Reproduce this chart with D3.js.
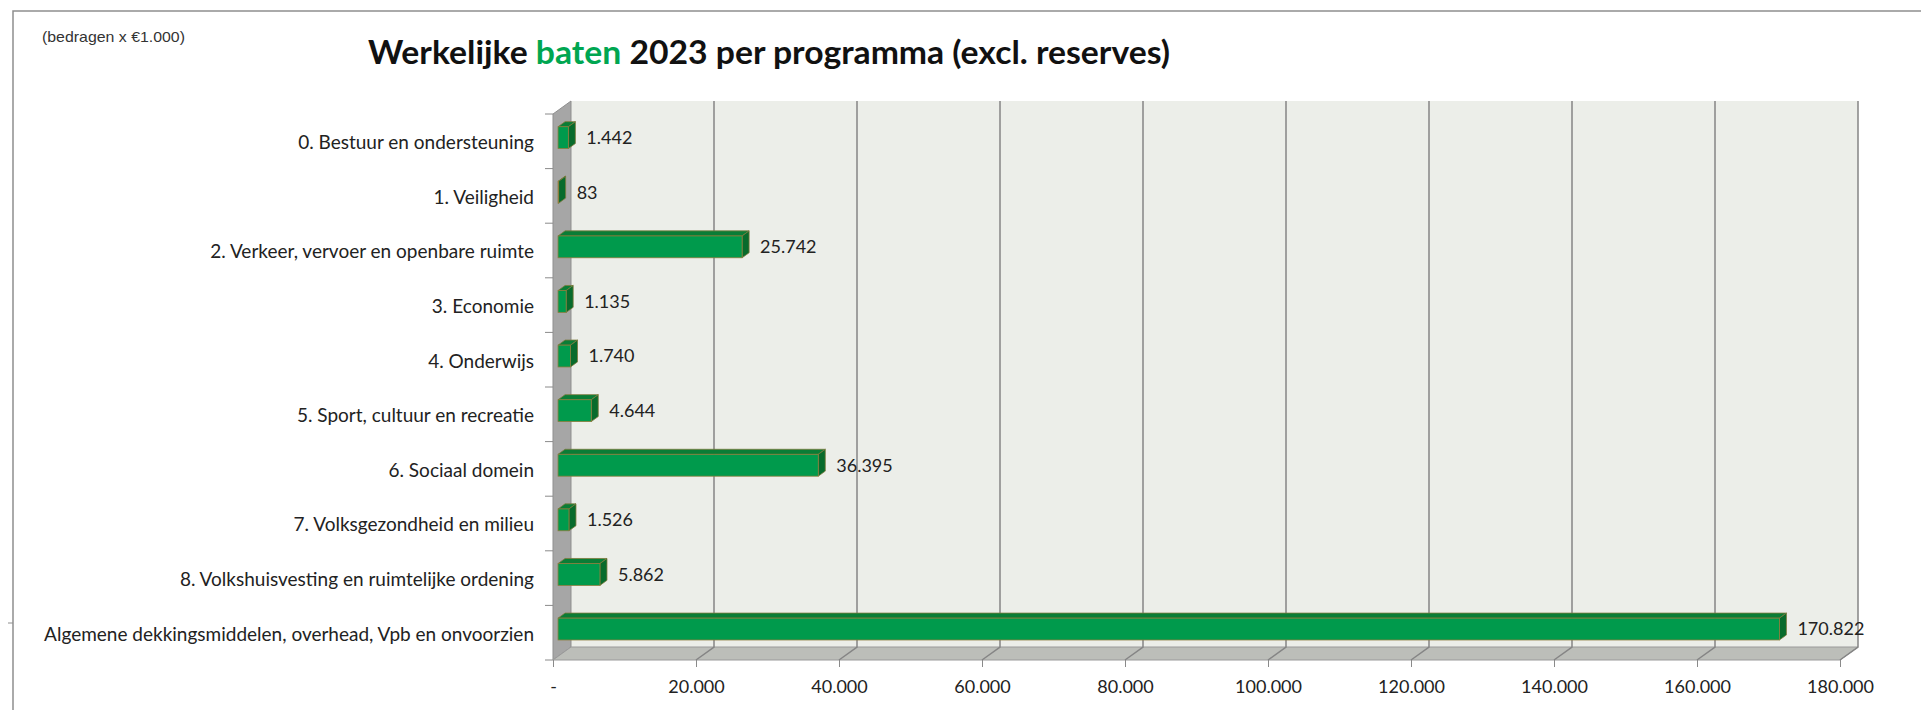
<!DOCTYPE html>
<html>
<head>
<meta charset="utf-8">
<script src="https://cdn.jsdelivr.net/npm/d3@7"></script>
<style>
  html, body { margin: 0; padding: 0; background: #fff; }
  svg { display: block; }
</style>
</head>
<body>
<div id="chart"></div>
<script>
const categories = [
  '0. Bestuur en ondersteuning',
  '1. Veiligheid',
  '2. Verkeer, vervoer en openbare ruimte',
  '3. Economie',
  '4. Onderwijs',
  '5. Sport, cultuur en recreatie',
  '6. Sociaal domein',
  '7. Volksgezondheid en milieu',
  '8. Volkshuisvesting en ruimtelijke ordening',
  'Algemene dekkingsmiddelen, overhead, Vpb en onvoorzien'
];
const baten = [1442, 83, 25742, 1135, 1740, 4644, 36395, 1526, 5862, 170822];
const xTicks = [0, 20000, 40000, 60000, 80000, 100000, 120000, 140000, 160000, 180000];

const width = 1921, height = 710;

// front plane of the 3D box and its depth offset
const x0 = 553, yTop = 114, yBot = 660;
const dx = 18, dy = -13;
// bars sit between these depth fractions
const dStart = 0.28, dEnd = 0.67;

const nl = d3.formatLocale({ decimal: ',', thousands: '.', grouping: [3], currency: ['€', ''] });
const fmt = nl.format(',d');

const x = d3.scaleLinear().domain([0, 180000]).range([0, 1287]);
const y = d3.scaleBand().domain(categories).range([yTop, yBot])
  .paddingInner(0.6).paddingOuter(0.3);
const step = y.step();

const svg = d3.select('#chart').append('svg')
  .attr('width', width)
  .attr('height', height);

// outer frame
svg.append('path')
  .attr('d', `M13,${height} L13,11 L${width},11`)
  .attr('fill', 'none')
  .attr('stroke', '#8e8e8e')
  .attr('stroke-width', 1.5);
svg.append('line')
  .attr('x1', 8).attr('x2', 13).attr('y1', 623).attr('y2', 623)
  .attr('stroke', '#8e8e8e');

svg.append('text')
  .attr('x', 42).attr('y', 42)
  .attr('font-family', 'Liberation Sans, Arial, sans-serif')
  .attr('font-size', 15)
  .attr('textLength', 143)
  .attr('lengthAdjust', 'spacingAndGlyphs')
  .attr('fill', '#333')
  .text('(bedragen x €1.000)');

const title = svg.append('text')
  .attr('x', 368).attr('y', 64)
  .attr('font-family', 'Lato, sans-serif')
  .attr('font-weight', 'bold')
  .attr('font-size', 33)
  .attr('textLength', 802)
  .attr('lengthAdjust', 'spacingAndGlyphs')
  .attr('fill', '#111');
title.append('tspan').text('Werkelijke ');
title.append('tspan').attr('fill', '#00a651').text('baten');
title.append('tspan').text(' 2023 per programma (excl. reserves)');

const xMax = x(180000);

// back wall
svg.append('rect')
  .attr('x', x0 + dx).attr('y', yTop + dy)
  .attr('width', xMax).attr('height', yBot - yTop)
  .attr('fill', '#eceee9');

// side wall
svg.append('path')
  .attr('d', `M${x0},${yTop} L${x0 + dx},${yTop + dy} L${x0 + dx},${yBot + dy} L${x0},${yBot} Z`)
  .attr('fill', '#a6a6a6')
  .attr('stroke', '#8f8f8f')
  .attr('stroke-width', 1);

// floor
svg.append('path')
  .attr('d', `M${x0},${yBot} L${x0 + dx},${yBot + dy} L${x0 + dx + xMax},${yBot + dy} L${x0 + xMax},${yBot} Z`)
  .attr('fill', '#bcbeb9')
  .attr('stroke', '#9a9a9a')
  .attr('stroke-width', 1);

// gridlines on wall and floor
const grid = svg.append('g').attr('stroke', '#858585').attr('stroke-width', 1.5).attr('fill', 'none');
grid.selectAll('path')
  .data(xTicks.filter(d => d > 0))
  .join('path')
  .attr('d', d => `M${x0 + dx + x(d)},${yTop + dy} L${x0 + dx + x(d)},${yBot + dy} L${x0 + x(d)},${yBot}`);

// x axis (ticks under the floor's front edge)
const xAxis = svg.append('g')
  .attr('transform', `translate(${x0},${yBot})`)
  .call(d3.axisBottom(x).tickValues(xTicks).tickSize(7).tickPadding(13)
    .tickFormat(d => d === 0 ? '-' : fmt(d)));
xAxis.select('.domain').remove();
xAxis.selectAll('line').attr('stroke', '#8a8a8a');
xAxis.selectAll('text')
  .attr('font-family', 'Lato, sans-serif')
  .attr('font-size', 18)
  .attr('fill', '#222');

// y axis: labels centred on bands, ticks at band edges
const yAxis = svg.append('g')
  .attr('transform', `translate(${x0},0)`)
  .call(d3.axisLeft(y).tickSize(0).tickPadding(19));
yAxis.select('.domain').remove();
yAxis.selectAll('text')
  .attr('dy', '0.42em')
  .attr('font-family', 'Lato, sans-serif')
  .attr('font-size', 19)
  .attr('fill', '#222');

svg.append('g')
  .attr('stroke', '#8a8a8a')
  .selectAll('line')
  .data(d3.range(categories.length + 1))
  .join('line')
  .attr('x1', x0 - 8).attr('x2', x0)
  .attr('y1', i => yTop + i * step).attr('y2', i => yTop + i * step);

// bars as boxes
const data = categories.map((c, i) => ({ cat: c, value: baten[i] }));
const ox = dStart * dx, oy = dStart * dy;
const bx = (dEnd - dStart) * dx, by = (dEnd - dStart) * dy;
const bh = y.bandwidth();

const bars = svg.append('g').selectAll('g')
  .data(data)
  .join('g')
  .attr('transform', d => `translate(${x0 + ox},${y(d.cat) + oy})`);

bars.append('path') // top
  .attr('d', d => `M0,0 L${bx},${by} L${x(d.value) + bx},${by} L${x(d.value)},0 Z`)
  .attr('fill', '#0a7d36')
  .attr('stroke', '#7d7a3c').attr('stroke-width', 0.8);
bars.append('path') // right side
  .attr('d', d => `M${x(d.value)},0 L${x(d.value) + bx},${by} L${x(d.value) + bx},${bh + by} L${x(d.value)},${bh} Z`)
  .attr('fill', '#086b2c')
  .attr('stroke', '#7d7a3c').attr('stroke-width', 0.8);
bars.append('rect') // front
  .attr('width', d => x(d.value))
  .attr('height', bh)
  .attr('fill', '#009a4c')
  .attr('stroke', '#8c7d3c').attr('stroke-width', 0.8);

bars.append('text')
  .attr('x', d => x(d.value) + bx + 11)
  .attr('y', bh / 2)
  .attr('dy', '0.35em')
  .attr('font-family', 'Lato, sans-serif')
  .attr('font-size', 18)
  .attr('fill', '#222')
  .text(d => fmt(d.value));
</script>
</body>
</html>
